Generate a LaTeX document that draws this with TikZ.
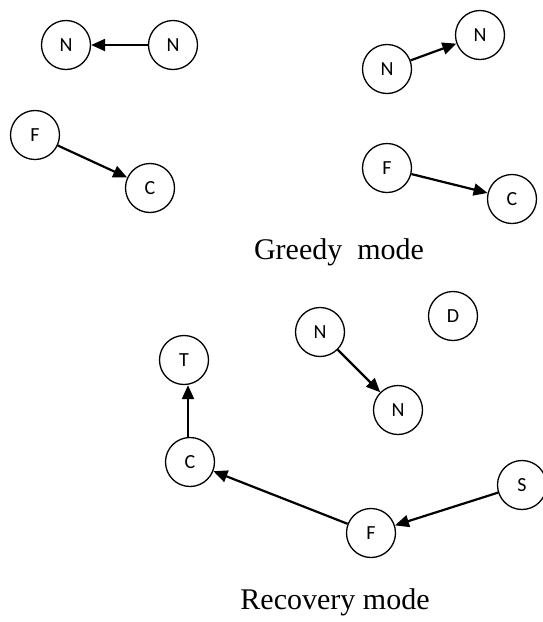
\documentclass[tikz,border=0pt]{standalone}
\usepackage{fontspec}
\setmainfont{Liberation Serif}
\newfontfamily\nodefont{Carlito}
\usetikzlibrary{arrows.meta}
\begin{document}
\begin{tikzpicture}[x=1pt,y=-1pt,
  agent/.style={circle,draw,line width=1.3pt,minimum size=49pt,inner sep=0pt,
    font=\nodefont\fontsize{20}{20}\selectfont},
  link/.style={line width=2.2pt,-{Triangle[length=14pt,width=12pt]}},
  caption/.style={font=\fontsize{30}{31}\selectfont}]
\useasboundingbox (0,0) rectangle (543,622);

% upper left pair and F->C
\node[agent] (nl) at (66,45) {N};
\node[agent] (nr) at (173,45) {N};
\node[agent] (fl) at (35,135) {F};
\node[agent] (cl) at (150,188) {C};
\draw[link] (nr) -- (nl);
\draw[link] (fl) -- (cl);

% upper right pair and F->C
\node[agent] (na) at (387,69) {N};
\node[agent] (nb) at (480,35) {N};
\node[agent] (fr) at (387,168) {F};
\node[agent] (cr) at (512,199) {C};
\draw[link] (na) -- (nb);
\draw[link] (fr) -- (cr);

\node[caption] (greedy) at (339,252) {Greedy\ \ mode};

% lower part
\node[agent] (d) at (453,316) {D};
\node[agent] (nc) at (320,332) {N};
\node[agent] (nd) at (398,410) {N};
\node[agent] (t) at (184,360) {T};
\node[agent] (cb) at (190,462) {C};
\node[agent] (s) at (522,485) {S};
\node[agent] (fb) at (371,533) {F};
\draw[link] (nc) -- (nd);
\draw[link] ([xshift=-2pt]cb.north) -- ([xshift=-2pt]cb.north |- t.south);
\draw[link] (s) -- (fb);
\draw[link] (fb) -- (cb);

\node[caption] (recovery) at (335,602) {Recovery mode};
\end{tikzpicture}
\end{document}
